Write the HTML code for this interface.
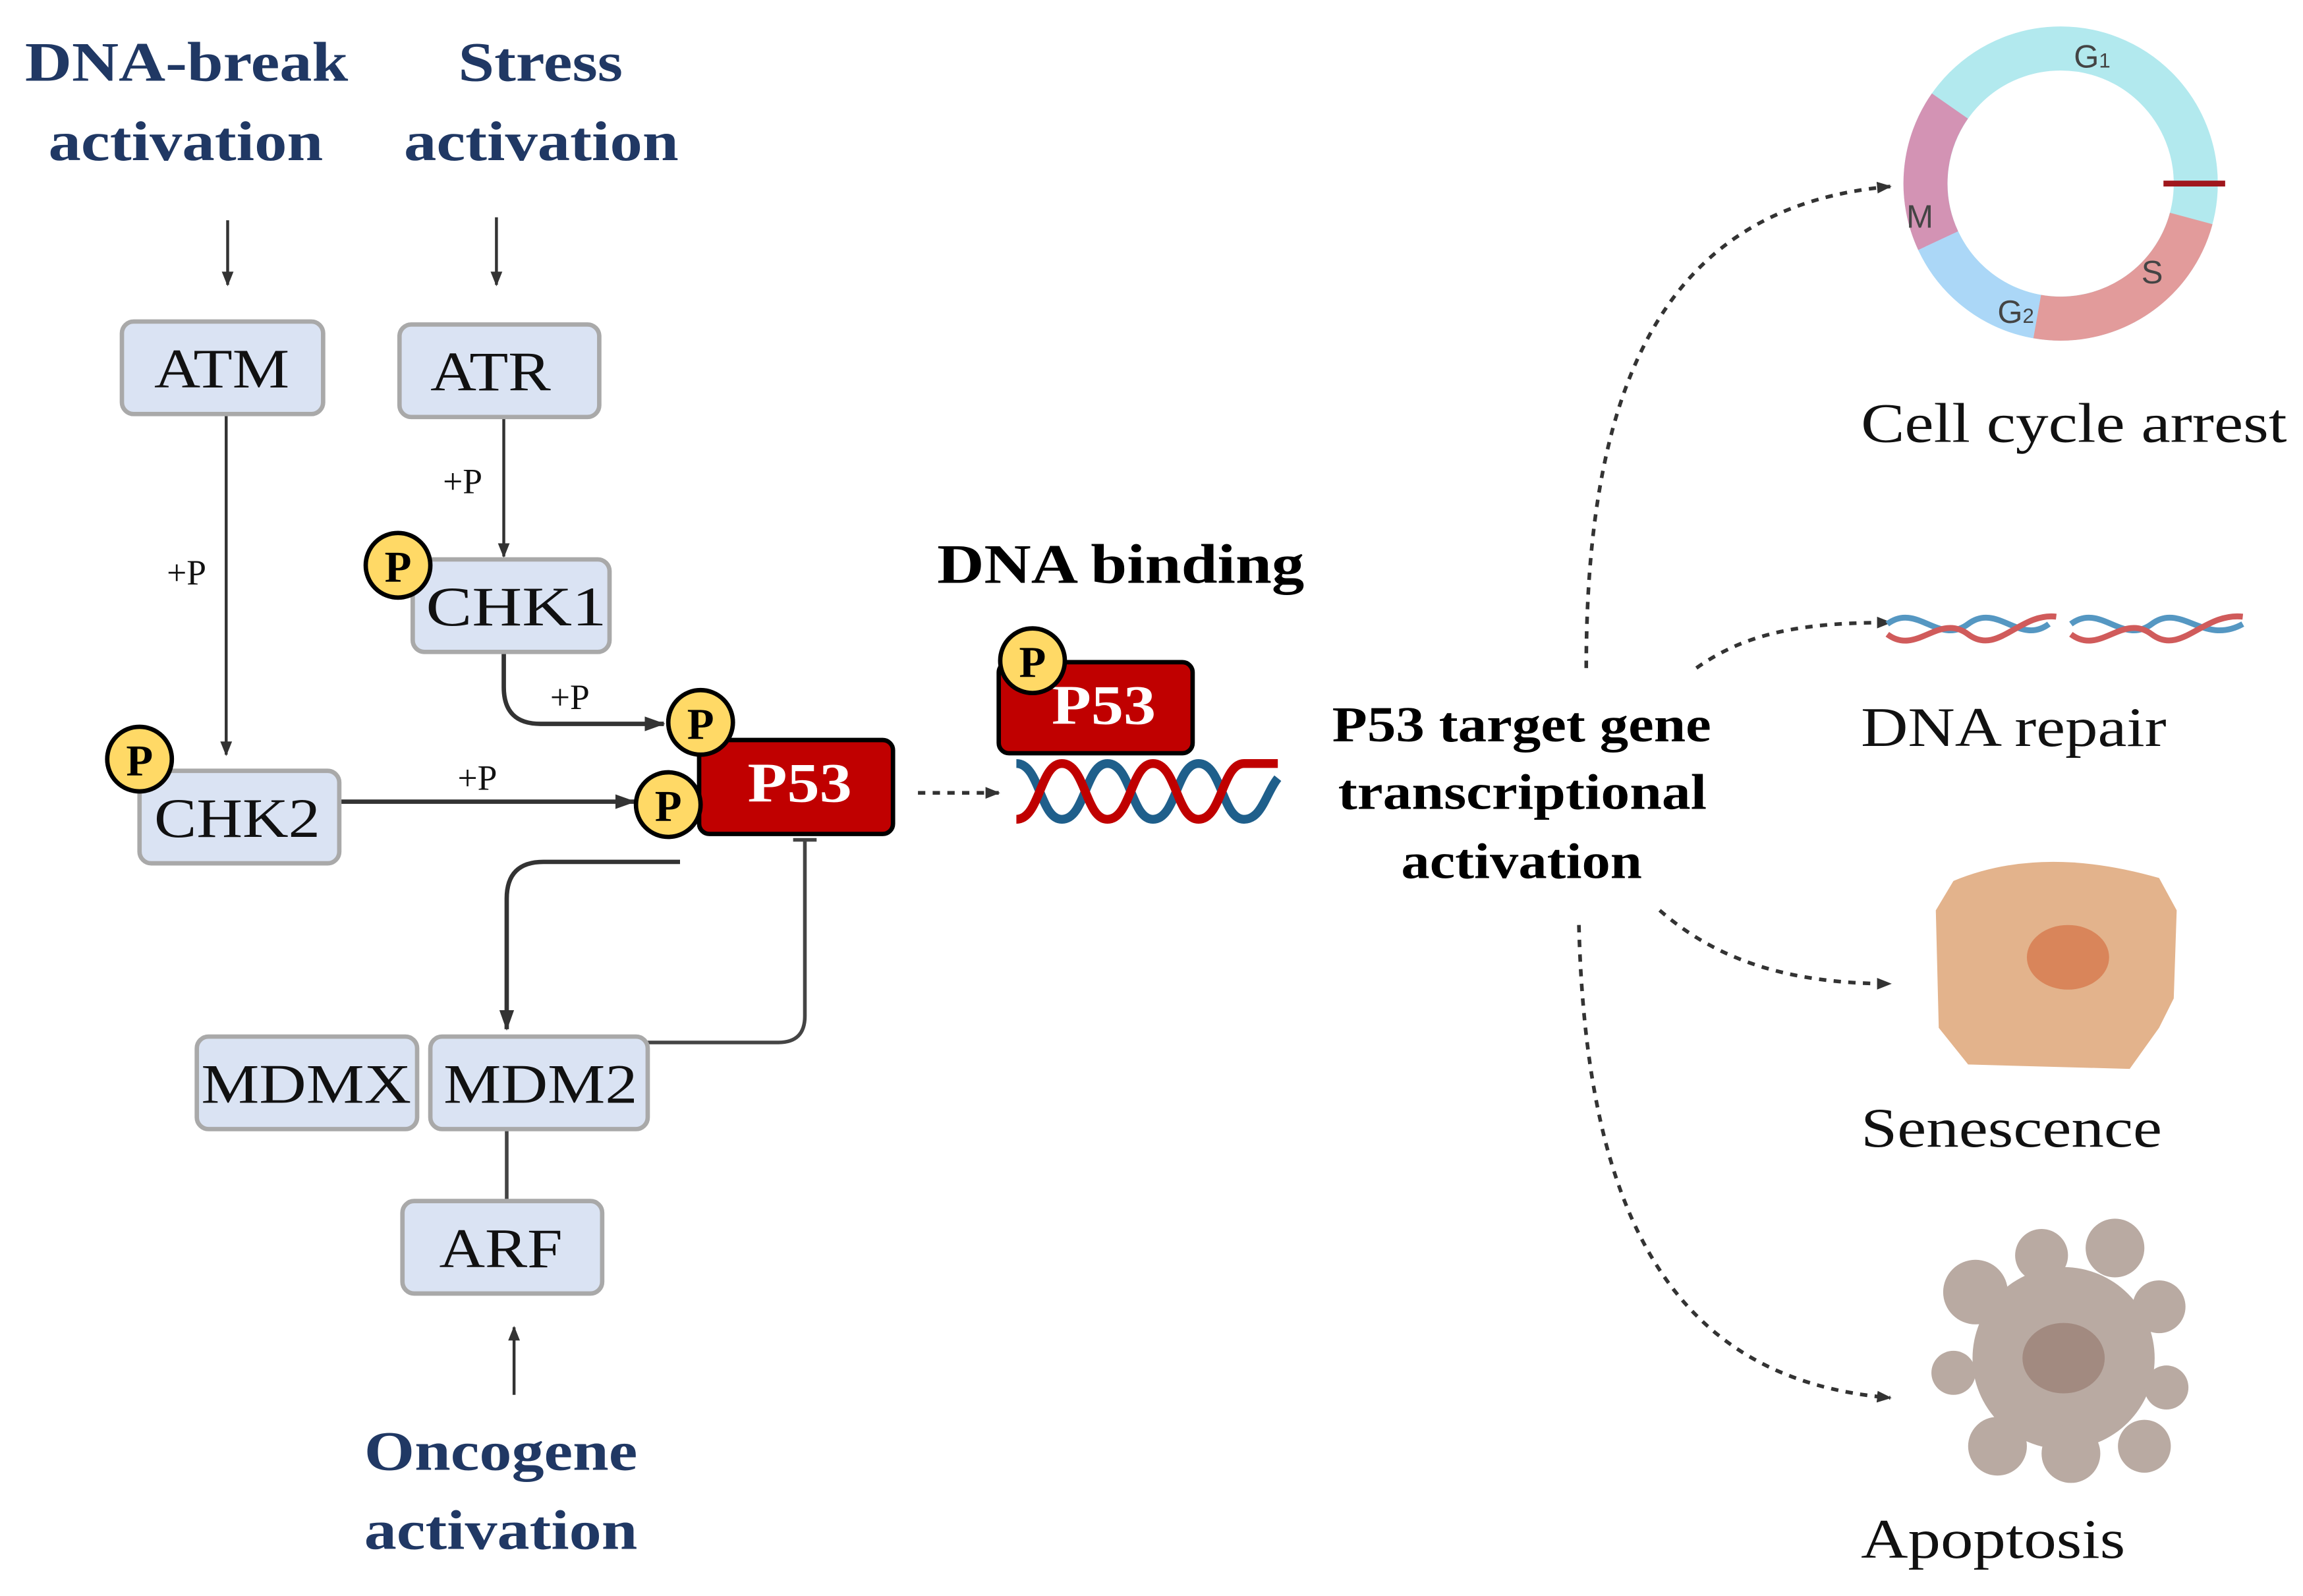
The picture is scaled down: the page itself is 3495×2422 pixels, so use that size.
<!DOCTYPE html>
<html><head><meta charset="utf-8"><style>html,body{margin:0;padding:0;background:#fff}svg{display:block}svg text{font-family:"Liberation Serif","Times New Roman",serif}</style></head><body>
<svg width="3495" height="2422" viewBox="0 0 1568 1087" preserveAspectRatio="none" xmlns="http://www.w3.org/2000/svg">
<defs>
<marker id="a" markerWidth="10" markerHeight="10" refX="9" refY="5" orient="auto" markerUnits="userSpaceOnUse"><path d="M0,1 L10,5 L0,9 Z" fill="#333"/></marker>
<marker id="b" markerWidth="14" markerHeight="12" refX="13" refY="6" orient="auto" markerUnits="userSpaceOnUse"><path d="M0,1 L14,6 L0,11 Z" fill="#333"/></marker>
</defs>
<g fill="#203864" font-weight="bold" font-size="38" lengthAdjust="spacingAndGlyphs">
<text x="17" y="55" textLength="220" lengthAdjust="spacingAndGlyphs">DNA-break</text><text x="33" y="109" textLength="187" lengthAdjust="spacingAndGlyphs">activation</text>
<text x="312" y="55" textLength="112" lengthAdjust="spacingAndGlyphs">Stress</text><text x="275" y="109" textLength="187" lengthAdjust="spacingAndGlyphs">activation</text>
<text x="248" y="1001" textLength="186" lengthAdjust="spacingAndGlyphs">Oncogene</text><text x="248" y="1055" textLength="186" lengthAdjust="spacingAndGlyphs">activation</text>
</g>
<g stroke="#333" stroke-width="2" fill="none" marker-end="url(#a)">
<line x1="155" y1="150" x2="155" y2="194"/>
<line x1="338" y1="148" x2="338" y2="194"/>
<line x1="154" y1="282" x2="154" y2="514"/>
<line x1="343" y1="284" x2="343" y2="379"/>
<line x1="350" y1="950" x2="350" y2="904"/>
</g>
<g stroke="#333" stroke-width="3" fill="none" marker-end="url(#b)">
<path d="M343,444 L343,468 Q343,493 368,493 L452,493"/>
<line x1="231" y1="546" x2="432" y2="546"/>
<path d="M463,587 L370,587 Q345,587 345,612 L345,701"/>
</g>
<g stroke="#444" stroke-width="2.5" fill="none">
<path d="M441,710 L530,710 Q548,710 548,692 L548,572"/>
<line x1="540" y1="572" x2="556" y2="572"/>
<line x1="345" y1="769" x2="345" y2="818"/>
</g>
<g fill="#dae3f3" stroke="#a9a9a9" stroke-width="3">
<rect x="83" y="219" width="137" height="63" rx="8"/>
<rect x="272" y="221" width="136" height="63" rx="8"/>
<rect x="281" y="381" width="134" height="63" rx="8"/>
<rect x="95" y="525" width="136" height="63" rx="8"/>
<rect x="134" y="706" width="150" height="63" rx="8"/>
<rect x="293" y="706" width="148" height="63" rx="8"/>
<rect x="274" y="818" width="136" height="63" rx="8"/>
</g>
<g font-size="38" fill="#111">
<text x="105" y="264" textLength="92" lengthAdjust="spacingAndGlyphs">ATM</text>
<text x="293" y="266" textLength="82" lengthAdjust="spacingAndGlyphs">ATR</text>
<text x="290" y="426" textLength="123" lengthAdjust="spacingAndGlyphs">CHK1</text>
<text x="105" y="570" textLength="113" lengthAdjust="spacingAndGlyphs">CHK2</text>
<text x="137" y="751" textLength="143" lengthAdjust="spacingAndGlyphs">MDMX</text>
<text x="302" y="751" textLength="132" lengthAdjust="spacingAndGlyphs">MDM2</text>
<text x="299" y="863" textLength="84" lengthAdjust="spacingAndGlyphs">ARF</text>
</g>
<g font-size="24" fill="#111" text-anchor="middle">
<text x="127" y="398">+P</text><text x="315" y="336">+P</text><text x="388" y="483">+P</text><text x="325" y="538">+P</text>
</g>
<rect x="476" y="504" width="132" height="64" rx="7" fill="#c00000" stroke="#000" stroke-width="3"/>
<text x="509" y="546" font-size="38" font-weight="bold" fill="#fff" textLength="71" lengthAdjust="spacingAndGlyphs">P53</text>
<rect x="680" y="451" width="132" height="62" rx="7" fill="#c00000" stroke="#000" stroke-width="3"/>
<text x="716" y="493" font-size="38" font-weight="bold" fill="#fff" textLength="71" lengthAdjust="spacingAndGlyphs">P53</text>
<g fill="#ffd966" stroke="#000" stroke-width="3">
<circle cx="271" cy="385" r="22"/><circle cx="95" cy="517" r="22"/>
<circle cx="477" cy="492" r="22"/><circle cx="455" cy="548" r="22"/><circle cx="703" cy="450" r="22"/>
</g>
<g font-size="30" font-weight="bold" text-anchor="middle" fill="#000">
<text x="271" y="396">P</text><text x="95" y="528">P</text><text x="477" y="503">P</text><text x="455" y="559">P</text><text x="703" y="461">P</text>
</g>
<text x="638" y="397" font-size="38" font-weight="bold" textLength="250" lengthAdjust="spacingAndGlyphs">DNA binding</text>
<line x1="625" y1="540" x2="680" y2="540" stroke="#333" stroke-width="2.5" stroke-dasharray="5,5" marker-end="url(#a)"/>
<g fill="none" stroke-width="6">
<path d="M692,520 C708,520 708,558 723,558 C739,558 739,520 754,520 C770,520 770,558 785,558 C801,558 801,520 816,520 C832,520 832,558 847,558 C859,558 862,540 870,530" stroke="#1f5f8b"/>
<path d="M692,558 C708,558 708,520 723,520 C739,520 739,558 754,558 C770,558 770,520 785,520 C801,520 801,558 816,558 C832,558 832,520 847,520 C859,520 862,520 870,520" stroke="#c00000"/>
</g>
<g font-size="34" font-weight="bold">
<text x="907" y="505" textLength="258" lengthAdjust="spacingAndGlyphs">P53 target gene</text>
<text x="911" y="551" textLength="251" lengthAdjust="spacingAndGlyphs">transcriptional</text>
<text x="954" y="598" textLength="164" lengthAdjust="spacingAndGlyphs">activation</text>
</g>
<g stroke="#333" stroke-width="2.5" fill="none" stroke-dasharray="5,5" marker-end="url(#a)">
<path d="M1080,455 C1080,250 1140,140 1287,127"/>
<path d="M1155,455 C1190,430 1230,424 1287,424"/>
<path d="M1130,620 C1170,655 1220,670 1287,670"/>
<path d="M1075,630 C1080,830 1140,940 1287,952"/>
</g>
<g fill="none" stroke-width="30">
<circle cx="1403" cy="125" r="92" stroke="#b2e9ee"/>
<path d="M1491.9,148.8 A92,92 0 0 1 1387,215.6" stroke="#e29b9b"/>
<path d="M1387,215.6 A92,92 0 0 1 1319.6,163.9" stroke="#abd7f7"/>
<path d="M1319.6,163.9 A92,92 0 0 1 1327.6,72.2" stroke="#d393b4"/>
</g>
<line x1="1473" y1="125" x2="1515" y2="125" stroke="#a0171d" stroke-width="4"/>
<g font-size="22" fill="#444">
<text x="1412" y="46" style="font-family:'Liberation Sans',sans-serif">G<tspan font-size="14">1</tspan></text>
<text x="1298" y="155" style="font-family:'Liberation Sans',sans-serif">M</text>
<text x="1458" y="193" style="font-family:'Liberation Sans',sans-serif">S</text>
<text x="1360" y="220" style="font-family:'Liberation Sans',sans-serif">G<tspan font-size="14">2</tspan></text>
</g>
<g fill="none" stroke-width="4">
<path d="M1285,425 C1305,410 1320,440 1340,425 C1360,410 1375,440 1395,425 M1410,425 C1430,410 1445,440 1465,425 C1485,410 1500,440 1527,425" stroke="#5597c2"/>
<path d="M1285,432 C1305,447 1320,417 1340,432 C1360,447 1375,417 1400,420 M1410,432 C1430,447 1445,417 1465,432 C1485,447 1500,417 1527,420" stroke="#d05b5b"/>
</g>
<path d="M1330,600 Q1390,575 1470,598 L1482,620 L1480,680 L1470,700 L1450,728 L1340,725 L1320,700 L1318,620 Z" fill="#e3b38c"/>
<ellipse cx="1408" cy="652" rx="28" ry="22" fill="#d9855a"/>
<g fill="#b9aaa2">
<circle cx="1405" cy="925" r="62"/>
<circle cx="1345" cy="880" r="22"/><circle cx="1390" cy="855" r="18"/><circle cx="1440" cy="850" r="20"/><circle cx="1470" cy="890" r="18"/>
<circle cx="1475" cy="945" r="15"/><circle cx="1460" cy="985" r="18"/><circle cx="1410" cy="990" r="20"/><circle cx="1360" cy="985" r="20"/><circle cx="1330" cy="935" r="15"/>
</g>
<ellipse cx="1405" cy="925" rx="28" ry="24" fill="#a28a80"/>
<g font-size="38" fill="#111">
<text x="1267" y="301" textLength="290" lengthAdjust="spacingAndGlyphs">Cell cycle arrest</text>
<text x="1267" y="508" textLength="208" lengthAdjust="spacingAndGlyphs">DNA repair</text>
<text x="1267" y="781" textLength="205" lengthAdjust="spacingAndGlyphs">Senescence</text>
<text x="1267" y="1061" textLength="180" lengthAdjust="spacingAndGlyphs">Apoptosis</text>
</g>
</svg>
</body></html>
